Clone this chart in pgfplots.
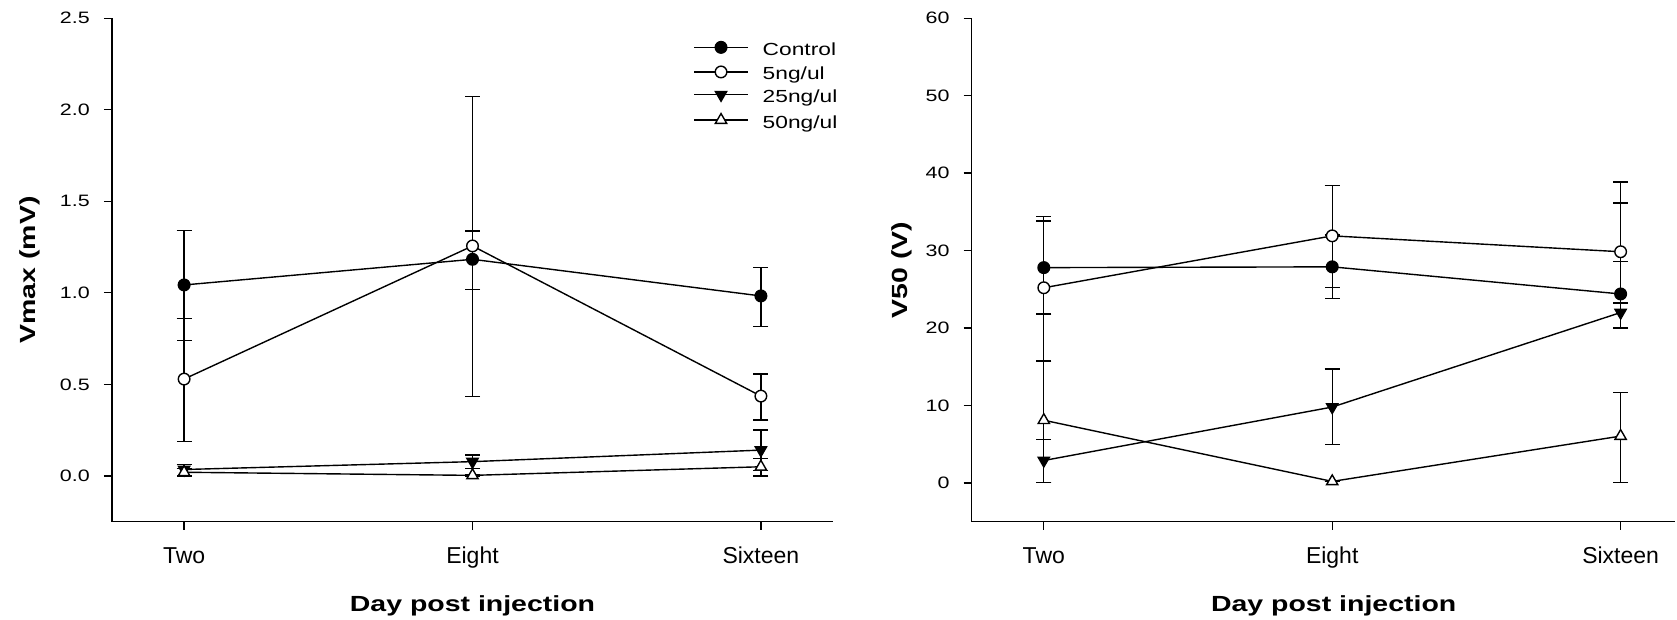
\documentclass[border=0pt]{standalone}
\usepackage{fontspec}
\setmainfont{Liberation Sans}[FakeStretch=1.3]
\newfontfamily\xtfont{Liberation Sans}
\usepackage{pgfplots}
\usepackage{pgfplotstable}
\pgfplotsset{compat=1.18}

% Vmax (mV)
\pgfplotstableread{
x y ep em
0 1.043 0.296 0.305
1 1.183 0.154 0.164
2 0.983 0.156 0.168
}\vmaxctrl
\pgfplotstableread{
x y ep em
0 0.529 0.332 0.340
1 1.256 0.815 0.823
2 0.436 0.121 0.131
}\vmaxfive
\pgfplotstableread{
x y ep em
0 0.035 0.027 0.035
1 0.078 0.036 0.036
2 0.141 0.110 0.110
}\vmaxtwentyfive
\pgfplotstableread{
x y ep em
0 0.020 0.020 0.020
1 0.003 0.003 0.003
2 0.050 0.046 0.050
}\vmaxfifty

% V50 (V)
\pgfplotstableread{
x y ep em
0 27.8 6.0 6.0
1 27.9 4.1 4.1
2 24.4 4.15 4.35
}\vctrl
\pgfplotstableread{
x y ep em
0 25.2 9.2 9.45
1 31.9 6.5 6.7
2 29.85 9.0 6.6
}\vfive
\pgfplotstableread{
x y ep em
0 2.9 2.75 2.85
1 9.8 4.9 4.85
2 22.0 14.15 2.0
}\vtwentyfive
\pgfplotstableread{
x y ep em
0 8.1 7.6 8.0
1 0.2 0.0 0.0
2 6.05 5.6 6.0
}\vfifty

\pgfplotsset{
  myaxis/.style={
    scale only axis,
    axis x line*=bottom,
    axis y line*=left,
    axis line style={line width=1.5pt, black},
    every tick/.style={black, line width=1.3pt},
    tick align=outside,
    major tick length=8pt,
    minor tick num=0,
    xmin=-0.25,
    xtick={0,1,2},
    xticklabels={Two,Eight,Sixteen},
    x tick label style={font=\xtfont\fontsize{23}{27}\selectfont, anchor=base, yshift=-33.6pt},
    y tick label style={font=\fontsize{16.5}{19}\selectfont, inner sep=0pt, xshift=-14pt},
    /pgf/number format/assume math mode=true,
    height=503.5pt,
    label style={font=\bfseries\fontsize{21.9}{26}\selectfont},
    every axis plot/.append style={line width=1.4pt, black},
  },
  errs/.style={mark=none, forget plot,
    error bars/y dir=both,
    error bars/y explicit,
    error bars/error bar style={line width=1.3pt, black},
    error bars/error mark options={rotate=90, line width=1.3pt, black, mark size=7.5pt}},
  marksonly/.style={only marks, forget plot},
  sctrl/.style={mark=*, mark size=5.8pt, mark options={fill=black, solid}},
  sfive/.style={mark=*, mark size=5.8pt, mark options={fill=white, solid}},
  stf/.style={mark=triangle*, mark size=6.5pt, mark options={fill=black, rotate=180, solid}},
  sfifty/.style={mark=triangle*, mark size=6.5pt, mark options={fill=white, solid}},
}

\begin{document}
\begin{tikzpicture}
\path[use as bounding box] (0pt,0pt) rectangle (1677pt,620pt);

\begin{axis}[myaxis,
  at={(112pt,98.3pt)}, anchor=south west,
  width=721pt,
  xmax=2.25,
  ymin=-0.25, ymax=2.5,
  ytick={0,0.5,1,1.5,2,2.5},
  yticklabel style={/pgf/number format/.cd, fixed, fixed zerofill, precision=1},
  ylabel={Vmax (mV)},
  ylabel style={at={(axis description cs:-0.114,0.5)}, anchor=center},
  xlabel={Day post injection},
  xlabel style={at={(axis description cs:0.5,-0.1785)}, anchor=base},
  legend style={at={(axis description cs:0.806,0.954)}, anchor=north west,
    draw=none, fill=none, inner sep=0pt, row sep=6.8pt,
    font=\fontsize{17.5}{20}\selectfont,
    nodes={inner sep=0pt, text height=12pt, text depth=4pt}},
  legend cell align=left,
  legend image code/.code={\draw[mark repeat=2,mark phase=2,#1] plot coordinates {(0pt,4pt) (27pt,4pt) (54pt,4pt)}; \path (68pt,4pt);},
]
% lines and error bars
\addplot[errs] table[x=x,y=y,y error plus=ep,y error minus=em] {\vmaxctrl};
\addplot[errs] table[x=x,y=y,y error plus=ep,y error minus=em] {\vmaxfive};
\addplot[errs] table[x=x,y=y,y error plus=ep,y error minus=em] {\vmaxtwentyfive};
\addplot[errs] table[x=x,y=y,y error plus=ep,y error minus=em] {\vmaxfifty};
% markers on top
\addplot[marksonly, sctrl] table[x=x,y=y] {\vmaxctrl};
\addplot[marksonly, sfive] table[x=x,y=y] {\vmaxfive};
\addplot[marksonly, stf] table[x=x,y=y] {\vmaxtwentyfive};
\addplot[marksonly, sfifty] table[x=x,y=y] {\vmaxfifty};
\addlegendimage{black, line width=1.4pt, sctrl}
\addlegendentry{Control}
\addlegendimage{black, line width=1.4pt, sfive}
\addlegendentry{5ng/ul}
\addlegendimage{black, line width=1.4pt, stf}
\addlegendentry{25ng/ul}
\addlegendimage{black, line width=1.4pt, sfifty}
\addlegendentry{50ng/ul}
\end{axis}

\begin{axis}[myaxis,
  at={(971.7pt,98.3pt)}, anchor=south west,
  width=703.7pt,
  xmax=2.19,
  ymin=-5, ymax=60,
  ytick={0,10,20,30,40,50,60},
  ylabel={V50 (V)},
  ylabel style={at={(axis description cs:-0.0996,0.5)}, anchor=center},
  xlabel={Day post injection},
  xlabel style={at={(axis description cs:0.5144,-0.1785)}, anchor=base},
]
\addplot[errs] table[x=x,y=y,y error plus=ep,y error minus=em] {\vctrl};
\addplot[errs] table[x=x,y=y,y error plus=ep,y error minus=em] {\vfive};
\addplot[errs] table[x=x,y=y,y error plus=ep,y error minus=em] {\vtwentyfive};
\addplot[errs] table[x=x,y=y,y error plus=ep,y error minus=em] {\vfifty};
\addplot[marksonly, sctrl] table[x=x,y=y] {\vctrl};
\addplot[marksonly, sfive] table[x=x,y=y] {\vfive};
\addplot[marksonly, stf] table[x=x,y=y] {\vtwentyfive};
\addplot[marksonly, sfifty] table[x=x,y=y] {\vfifty};
\end{axis}
\end{tikzpicture}
\end{document}
